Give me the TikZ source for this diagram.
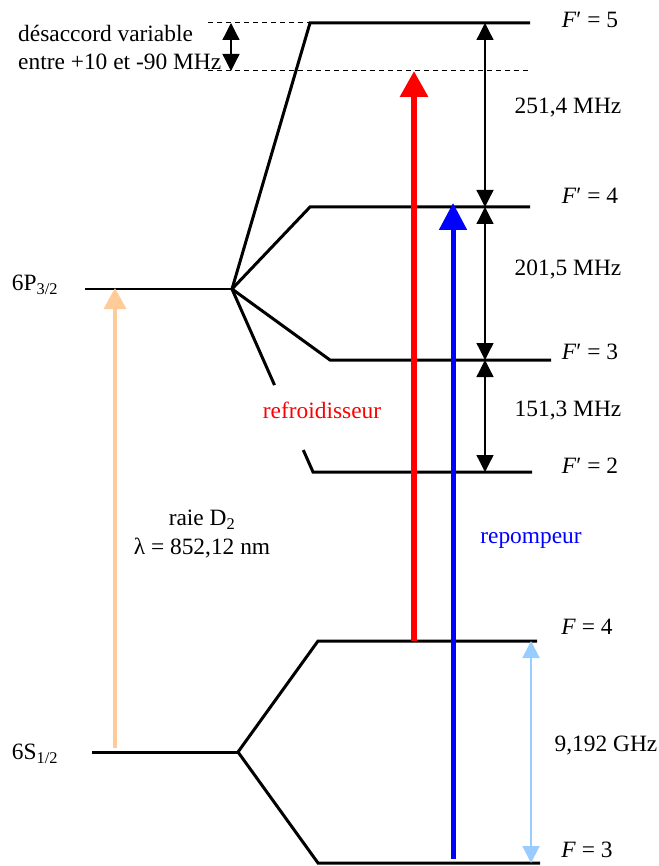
\documentclass[tikz,border=0pt]{standalone}
\usepackage{fontspec}
\setmainfont{Liberation Serif}
\usetikzlibrary{arrows.meta,calc}
\definecolor{peach}{RGB}{255,204,153}
\definecolor{skyb}{RGB}{153,204,255}
\begin{document}
\begin{tikzpicture}[x=1pt,y=-1pt,
  lvl/.style={line width=3pt},
  lbl/.style={font=\fontsize{23.4}{27}\selectfont, inner sep=0pt},
  dbl/.style={line width=1.3pt, {Triangle[length=17pt,width=17pt]}-{Triangle[length=17pt,width=17pt]}},
  dsh/.style={line width=1pt, dash pattern=on 5pt off 4pt}]
\useasboundingbox (0,0) rectangle (658,866);
% level coordinates
\coordinate (P) at (232,289);
\coordinate (P0) at (85,289);
\coordinate (F5a) at (310,23); \coordinate (F5b) at (530,23);
\coordinate (F4a) at (310,207); \coordinate (F4b) at (530,207);
\coordinate (F3a) at (330,360); \coordinate (F3b) at (551,360);
\coordinate (F2a) at (313,472); \coordinate (F2b) at (532,472);
\coordinate (S) at (238,752); \coordinate (S0) at (92,752);
\coordinate (G4a) at (318,641); \coordinate (G4b) at (537,641);
\coordinate (G3a) at (318,863); \coordinate (G3b) at (540,863);
\coordinate (D5l) at (208,23); \coordinate (Dtl) at (208,71); \coordinate (Dtr) at (530,71);
% levels
\draw[lvl, line width=2.5pt] (P0) -- (P);
\draw[lvl] (P) -- (F5a) -- (F5b);
\draw[lvl] (P) -- (F4a) -- (F4b);
\draw[lvl] (P) -- (F3a) -- (F3b);
\draw[lvl] (P) -- ($(P)!0.525!(F2a)$);
\draw[lvl] ($(P)!0.88!(F2a)$) -- (F2a) -- (F2b);
\draw[lvl] (S0) -- (S);
\draw[lvl] (S) -- (G4a) -- (G4b);
\draw[lvl] (S) -- (G3a) -- (G3b);
% detuning dashed lines
\draw[dsh] (D5l) -- (F5b);
\draw[dsh] (Dtl) -- (Dtr);
% arrow end coordinates
\coordinate (det1) at (231,23); \coordinate (det2) at (231,71);
\coordinate (h1) at (485,23); \coordinate (h2) at (485,207);
\coordinate (h3) at (485,360); \coordinate (h4) at (485,472);
\coordinate (g1) at (531,641); \coordinate (g2) at (531,863);
\coordinate (rd0) at (414,641); \coordinate (rd1) at (414,71);
\coordinate (bl0) at (453,859); \coordinate (bl1) at (453,203);
\coordinate (or0) at (115,748); \coordinate (or1) at (115,288);
% arrows
\draw[dbl] (det1) -- (det2);
\draw[dbl] (h1) -- (h2);
\draw[dbl] (h2) -- (h3);
\draw[dbl] (h3) -- (h4);
\draw[skyb, line width=2pt, {Triangle[length=17pt,width=17pt]}-{Triangle[length=17pt,width=17pt]}] (g1) -- (g2);
\draw[red, line width=6pt, -{Triangle[length=26pt,width=27pt]}] (rd0) -- (rd1);
\draw[blue, line width=5pt, -{Triangle[length=27pt,width=27pt]}] (bl0) -- (bl1);
\draw[peach, line width=3.5pt, -{Triangle[length=21pt,width=22pt]}] (or0) -- (or1);
% labels
\node[lbl, anchor=west] (t1) at (18,33) {désaccord variable};
\node[lbl, anchor=west] (t2) at (18,62) {entre +10 et -90 MHz};
\node[lbl] (lf5) at (590,20) {\textit{F}′ = 5};
\node[lbl] (lf4) at (590,196) {\textit{F}′ = 4};
\node[lbl] (lf3) at (590,352) {\textit{F}′ = 3};
\node[lbl] (lf2) at (590,466) {\textit{F}′ = 2};
\node[lbl] (lg4) at (587,627) {\textit{F} = 4};
\node[lbl] (lg3) at (587,850) {\textit{F} = 3};
\node[lbl] (m1) at (568,108) {251,4 MHz};
\node[lbl] (m2) at (568,270) {201,5 MHz};
\node[lbl] (m3) at (568,411) {151,3 MHz};
\node[lbl] (m4) at (606,746) {9,192 GHz};
\node[lbl] (p32) at (35,285) {6P\textsubscript{3/2}};
\node[lbl] (s12) at (35,754) {6S\textsubscript{1/2}};
\node[lbl] (d2) at (202,520) {raie D\textsubscript{2}};
\node[lbl] (lam) at (202,548) {λ = 852,12 nm};
\node[lbl, text=red] (refr) at (322,410) {refroidisseur};
\node[lbl, text=blue] (rep) at (531,540) {repompeur};
\end{tikzpicture}
\end{document}
